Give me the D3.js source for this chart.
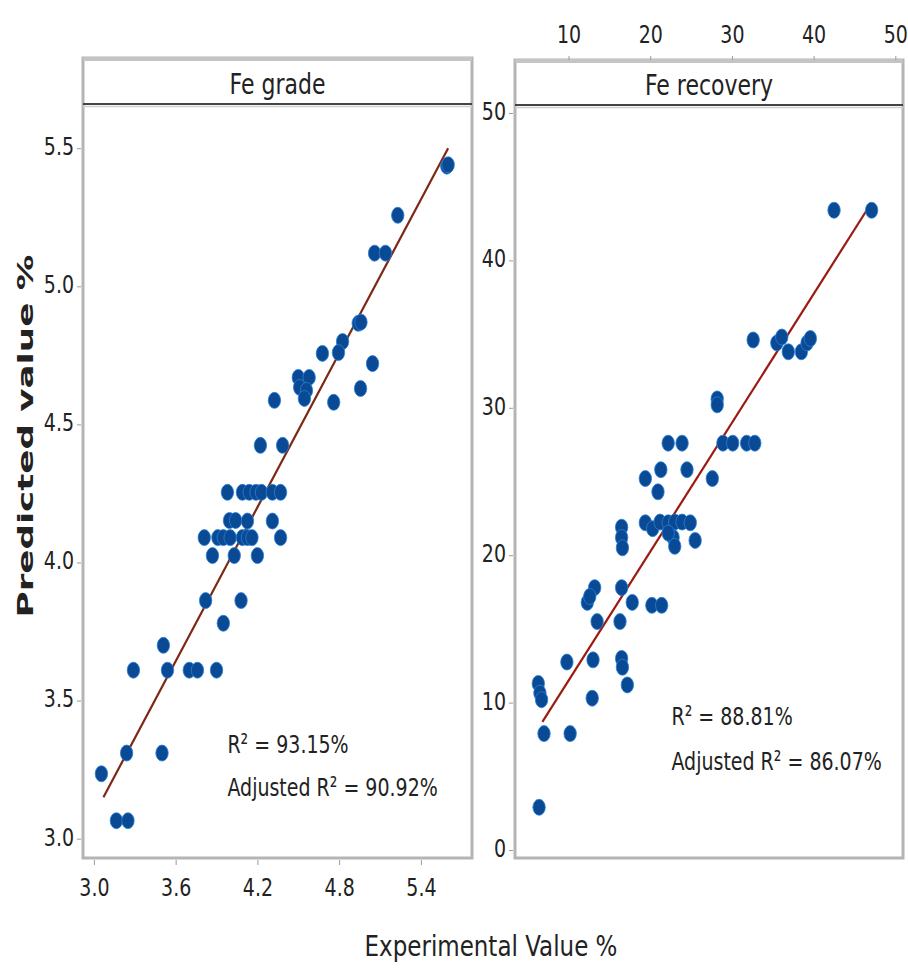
<!DOCTYPE html>
<html>
<head>
<meta charset="utf-8">
<script src="https://cdn.jsdelivr.net/npm/d3@7"></script>
<style>
	body { margin: 0; background: #fff; }
	text { font-family: "DejaVu Sans", sans-serif; fill: #222; }
	.frame { fill: none; stroke: #b4b4b4; stroke-width: 3; }
	.tick line { stroke: #9a9a9a; }
	.domain { display: none; }
</style>
</head>
<body>
<svg id="chart" width="908" height="968"></svg>
<script>
// Fe grade: experimental vs predicted
const gradeExp = [5.59, 5.60, 5.23, 5.06, 5.14, 4.94, 4.96, 4.825, 4.795, 4.677, 5.045, 4.957, 4.76, 4.325,
	4.50, 4.58, 4.51, 4.56, 4.545, 4.222, 4.385,
	3.98, 4.09, 4.14, 4.19, 4.23, 4.31, 4.37,
	3.995, 4.04, 4.127, 4.31,
	3.81, 3.91, 3.95, 4.0, 4.09, 4.127, 4.16, 4.37,
	3.87, 4.03, 4.2,
	3.82, 4.08, 3.95, 3.51, 3.54, 3.29, 3.70, 3.76, 3.90,
	3.50, 3.24, 3.055, 3.165, 3.25]
const gradePred = [5.435, 5.44, 5.257, 5.12, 5.12, 4.866, 4.87, 4.80, 4.76, 4.757, 4.72, 4.63, 4.58, 4.587,
	4.67, 4.67, 4.634, 4.623, 4.594, 4.424, 4.424,
	4.254, 4.254, 4.254, 4.254, 4.254, 4.254, 4.254,
	4.152, 4.152, 4.15, 4.15,
	4.09, 4.09, 4.09, 4.09, 4.09, 4.09, 4.09, 4.09,
	4.025, 4.025, 4.025,
	3.862, 3.862, 3.78, 3.70, 3.61, 3.61, 3.61, 3.61, 3.61,
	3.31, 3.31, 3.235, 3.065, 3.065]

// Fe recovery: experimental vs predicted
const recExp = [42.5, 47.1, 32.6, 35.5, 36.1, 36.9, 38.5, 39.2, 39.6, 28.2, 28.2,
	22.2, 23.9, 28.9, 30.1, 31.8, 32.8,
	21.3, 19.4, 24.5, 20.95, 27.6,
	16.5, 16.5, 16.6,
	19.4, 20.3, 21.2, 22.2, 23.0, 23.9, 24.9, 22.8, 23.0, 25.5, 22.2,
	13.2, 12.3, 12.6, 13.5, 16.5, 17.8, 16.3, 20.2, 21.4,
	9.8, 13.0, 16.5, 16.6, 17.2, 12.9, 6.3, 6.5, 6.7, 7.0, 10.2, 6.4]
const recPred = [43.4, 43.4, 34.6, 34.4, 34.8, 33.8, 33.8, 34.4, 34.7, 30.6, 30.2,
	27.6, 27.6, 27.6, 27.6, 27.6, 27.6,
	25.8, 25.2, 25.8, 24.3, 25.2,
	21.9, 21.2, 20.5,
	22.2, 21.8, 22.25, 22.2, 22.25, 22.25, 22.2, 21.2, 20.6, 21.0, 21.5,
	17.8, 16.8, 17.2, 15.5, 17.8, 16.8, 15.5, 16.6, 16.6,
	12.75, 12.9, 13.0, 12.4, 11.2, 10.3, 11.3, 10.65, 10.2, 7.9, 7.9, 2.9]

const gradeFit = [[3.07, 3.15], [5.6, 5.5]]
const recFit = [[6.8, 8.7], [46.5, 43.4]]

const gradeXTicks = [3.0, 3.6, 4.2, 4.8, 5.4]
const gradeYTicks = [3.0, 3.5, 4.0, 4.5, 5.0, 5.5]
const recXTicks = [10, 20, 30, 40, 50]
const recYTicks = [0, 10, 20, 30, 40, 50]

const gradeStats = ["R² = 93.15%", "Adjusted  R² = 90.92%"]
const recStats = ["R² = 88.81%", "Adjusted  R² = 86.07%"]

// the source picture is stretched vertically, so text gets a tall look
const STRETCH = 1.3

const svg = d3.select("#chart")

function tallText(holder, x, y, txt, size, s = STRETCH) {
	return holder.append("text")
		.attr("transform", `translate(${x},${y}) scale(1,${s})`)
		.attr("font-size", size)
		.text(txt)
}

const panels = [
	{
		title: "Fe grade", left: 83, right: 472, top: 58, strip: 104, bottom: 858,
		x: d3.scaleLinear().domain([2.92, 5.775]).range([83, 472]),
		y: d3.scaleLinear().domain([2.93, 5.66]).range([858, 104]),
		xs: gradeExp, ys: gradePred, fit: gradeFit,
		xTicks: gradeXTicks, yTicks: gradeYTicks, xFmt: d3.format(".1f"), yFmt: d3.format(".1f"),
		xAxisTop: false, stats: gradeStats, statX: 3.98, statY: [3.31, 3.155], lineColor: "#7c2815"
	},
	{
		title: "Fe recovery", left: 515, right: 903, top: 60, strip: 105, bottom: 858,
		x: d3.scaleLinear().domain([3.45, 50.94]).range([515, 903]),
		y: d3.scaleLinear().domain([-0.54, 50.54]).range([858, 105]),
		xs: recExp, ys: recPred, fit: recFit,
		xTicks: recXTicks, yTicks: recYTicks, xFmt: d3.format("d"), yFmt: d3.format("d"),
		xAxisTop: true, stats: recStats, statX: 22.6, statY: [8.5, 5.4], lineColor: "#9c1a12"
	},
]

panels.forEach(p => {
	const g = svg.append("g")

	// frame + strip
	g.append("rect").attr("class", "frame")
		.attr("x", p.left).attr("y", p.top)
		.attr("width", p.right - p.left).attr("height", p.bottom - p.top)
	g.append("line")
		.attr("x1", p.left).attr("x2", p.right).attr("y1", p.top + 1).attr("y2", p.top + 1)
		.attr("stroke", "#c4c4c4").attr("stroke-width", 4)
	g.append("line")
		.attr("x1", p.left).attr("x2", p.right).attr("y1", p.strip).attr("y2", p.strip)
		.attr("stroke", "#444").attr("stroke-width", 2)
	g.append("line")
		.attr("x1", p.left).attr("x2", p.right).attr("y1", p.strip + 2.5).attr("y2", p.strip + 2.5)
		.attr("stroke", "#cfcfcf").attr("stroke-width", 1.5)
	tallText(g, (p.left + p.right) / 2, p.strip - 10, p.title, 22)
		.attr("text-anchor", "middle")

	// axes
	const yAxis = d3.axisLeft(p.y).tickValues(p.yTicks).tickFormat(p.yFmt).tickSize(4).tickPadding(3)
	g.append("g").attr("transform", `translate(${p.left - 2},0)`).call(yAxis)
		.selectAll("text").attr("font-size", 19).attr("dy", "0.26em")
		.attr("transform", `scale(1,${STRETCH})`)

	if (p.xAxisTop) {
		const xAxis = d3.axisTop(p.x).tickValues(p.xTicks).tickFormat(p.xFmt).tickSize(4).tickPadding(9)
		g.append("g").attr("transform", `translate(0,${p.top})`).call(xAxis)
			.selectAll("text").attr("font-size", 19)
			.attr("transform", `scale(1,${STRETCH})`)
	} else {
		const xAxis = d3.axisBottom(p.x).tickValues(p.xTicks).tickFormat(p.xFmt).tickSize(5).tickPadding(9)
		g.append("g").attr("transform", `translate(0,${p.bottom + 2})`).call(xAxis)
			.selectAll("text").attr("font-size", 19)
			.attr("transform", `scale(1,${STRETCH})`)
	}

	// fit line
	g.append("path")
		.datum(p.fit)
		.attr("d", d3.line().x(d => p.x(d[0])).y(d => p.y(d[1])))
		.attr("stroke", p.lineColor).attr("stroke-width", 2.2).attr("fill", "none")

	// points (stretched like the source)
	g.selectAll("ellipse.pt")
		.data(d3.zip(p.xs, p.ys))
		.join("ellipse").classed("pt", true)
		.attr("cx", d => p.x(d[0])).attr("cy", d => p.y(d[1]))
		.attr("rx", 6.2).attr("ry", 8)
		.attr("fill", "#0a4a95").attr("stroke", "#2a7fd6").attr("stroke-width", 0.8)

	// stats
	p.stats.forEach((s, i) => {
		tallText(g, p.x(p.statX), p.y(p.statY[i]), s, 19, 1.35).attr("fill", "#333")
	})
})

svg.selectAll(".tick text").attr("fill", "#333")

svg.append("text")
	.attr("transform", "translate(33,436) rotate(-90) scale(1.62,1)")
	.attr("text-anchor", "middle")
	.attr("font-size", 22).attr("font-weight", "bold")
	.attr("fill", "#333")
	.text("Predicted value %")

tallText(svg, 491, 956, "Experimental Value %", 23, 1.25)
	.attr("text-anchor", "middle")
</script>
</body>
</html>
